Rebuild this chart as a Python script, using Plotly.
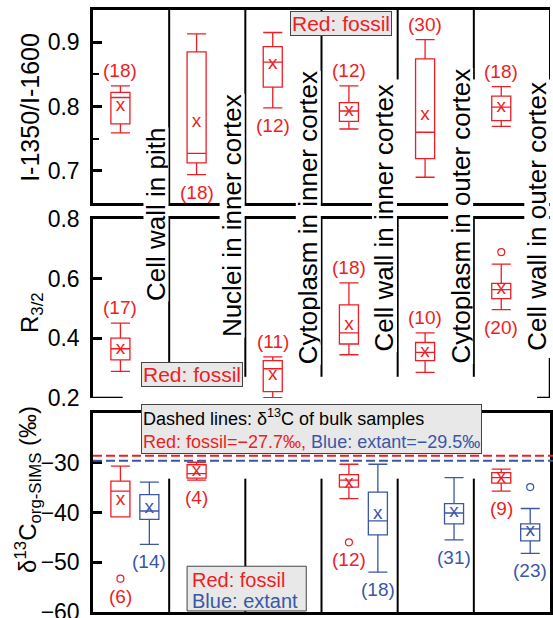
import plotly.graph_objects as go

RED = "#ee1d24"
BLUE = "#3a57a7"
FONT = "Arial, 'Liberation Sans', sans-serif"

categories = ["Cell wall in pith", "Nuclei in inner cortex", "Cytoplasm in inner cortex",
              "Cell wall in inner cortex", "Cytoplasm in outer cortex", "Cell wall in outer cortex"]

# ---- Panel 1: I-1350/I-1600 (fossil) ----
ratio_cat = [0, 1, 2, 3, 4, 5]
ratio_lo = [0.759, 0.694, 0.798, 0.765, 0.690, 0.769]
ratio_q1 = [0.773, 0.7125, 0.830, 0.777, 0.719, 0.778]
ratio_med = [0.814, 0.727, 0.869, 0.793, 0.760, 0.799]
ratio_q3 = [0.822, 0.885, 0.893, 0.806, 0.874, 0.816]
ratio_hi = [0.832, 0.913, 0.915, 0.832, 0.904, 0.831]
ratio_mean = [0.800, 0.775, 0.865, 0.792, 0.787, 0.799]
ratio_n = [18, 18, 12, 12, 30, 18]
ratio_out = [[], [], [], [], [], []]
ratio_side = ["top", "bottom", "bottom", "top", "top", "top"]

# ---- Panel 2: R3/2 (fossil) ----
r32_cat = [0, 2, 3, 4, 5]
r32_lo = [0.289, 0.201, 0.345, 0.286, 0.496]
r32_q1 = [0.328, 0.221, 0.381, 0.325, 0.533]
r32_med = [0.365, 0.298, 0.418, 0.353, 0.563]
r32_q3 = [0.401, 0.325, 0.512, 0.386, 0.584]
r32_hi = [0.451, 0.338, 0.586, 0.418, 0.649]
r32_mean = [0.365, 0.275, 0.443, 0.353, 0.565]
r32_n = [17, 11, 18, 10, 20]
r32_out = [[], [], [], [], [0.689]]
r32_side = ["top", "top", "top", "top", "bottom"]

# ---- Panel 3: d13C org-SIMS ----
fos_cat = [0, 1, 3, 5]
fos_lo = [-40.9, -33.5, -37.2, -35.7]
fos_q1 = [-40.9, -33.1, -34.9, -34.1]
fos_med = [-35.7, -32.2, -33.5, -33.0]
fos_q3 = [-33.7, -30.4, -32.4, -32.0]
fos_hi = [-30.7, -29.9, -30.3, -31.3]
fos_mean = [-37.5, -31.7, -34.2, -33.1]
fos_n = [6, 4, 12, 9]
fos_out = [[-53.3], [], [-46.0], []]
fos_side = ["bottom", "bottom", "bottom", "bottom"]

ext_cat = [0, 3, 4, 5]
ext_lo = [-46.4, -52.0, -45.5, -48.2]
ext_q1 = [-41.4, -44.5, -42.3, -45.7]
ext_med = [-39.7, -41.7, -40.1, -43.3]
ext_q3 = [-36.4, -35.9, -38.2, -42.3]
ext_hi = [-33.9, -30.3, -33.0, -39.2]
ext_mean = [-39.1, -40.3, -39.9, -43.7]
ext_n = [14, 18, 31, 23]
ext_out = [[], [], [], [-34.9]]
ext_side = ["bottom", "bottom", "bottom", "bottom"]

bulk_text = {"fossil": "−27.7", "extant": "−29.5"}
bulk_line = {"fossil": -28.6, "extant": -29.6}

FOSSIL_OFF = 0.36
EXTANT_OFF = 0.74
BOXW = 0.25

fig = go.Figure()
annotations = []
shapes = []


def add_series(cat, lo, q1, med, q3, hi, mean, n, outs, sides, color, off, xa, ya):
    xs = [c + off for c in cat]
    fig.add_trace(go.Box(x=xs, q1=q1, median=med, q3=q3, lowerfence=lo, upperfence=hi,
                         width=BOXW, whiskerwidth=1, boxpoints=False,
                         fillcolor="rgba(0,0,0,0)", line=dict(color=color, width=1.3),
                         xaxis=xa, yaxis=ya, hoverinfo="skip", showlegend=False))
    fig.add_trace(go.Scatter(x=xs, y=mean, mode="text", text=["x"] * len(xs),
                             textfont=dict(size=19, color=color, family=FONT),
                             xaxis=xa, yaxis=ya, hoverinfo="skip", showlegend=False))
    ox, oy = [], []
    for x, o in zip(xs, outs):
        for v in o:
            ox.append(x)
            oy.append(v)
    if ox:
        fig.add_trace(go.Scatter(x=ox, y=oy, mode="markers",
                                 marker=dict(symbol="circle-open", size=7, color=color,
                                             line=dict(width=1.2, color=color)),
                                 xaxis=xa, yaxis=ya, hoverinfo="skip", showlegend=False))
    for x, h, l, o, cnt, side in zip(xs, hi, lo, outs, n, sides):
        if side == "top":
            anchor = max([h] + o)
            annotations.append(dict(x=x, y=anchor, xref=xa, yref=ya, text=f"({cnt})",
                                    showarrow=False, xanchor="center", yanchor="bottom", yshift=3,
                                    font=dict(size=19, color=color, family=FONT)))
        else:
            anchor = min([l] + o)
            annotations.append(dict(x=x, y=anchor, xref=xa, yref=ya, text=f"({cnt})",
                                    showarrow=False, xanchor="center", yanchor="top", yshift=-5,
                                    font=dict(size=19, color=color, family=FONT)))


add_series(ratio_cat, ratio_lo, ratio_q1, ratio_med, ratio_q3, ratio_hi, ratio_mean, ratio_n,
           ratio_out, ratio_side, RED, FOSSIL_OFF, "x", "y")
add_series(r32_cat, r32_lo, r32_q1, r32_med, r32_q3, r32_hi, r32_mean, r32_n,
           r32_out, r32_side, RED, FOSSIL_OFF, "x2", "y2")
add_series(fos_cat, fos_lo, fos_q1, fos_med, fos_q3, fos_hi, fos_mean, fos_n,
           fos_out, fos_side, RED, FOSSIL_OFF, "x3", "y3")
add_series(ext_cat, ext_lo, ext_q1, ext_med, ext_q3, ext_hi, ext_mean, ext_n,
           ext_out, ext_side, BLUE, EXTANT_OFF, "x3", "y3")

# bulk dashed lines
for key, col in (("fossil", RED), ("extant", BLUE)):
    shapes.append(dict(type="line", xref="x3 domain", yref="y3", x0=0, x1=1.01,
                       y0=bulk_line[key], y1=bulk_line[key],
                       line=dict(color=col, width=2, dash="9px,4px")))

LINE = dict(color="black", width=2)
# dividers: top panel
for i in (1, 2, 3):
    shapes.append(dict(type="line", xref="x", yref="y", x0=i, x1=i, y0=0.65, y1=0.95, line=LINE))
for i in (4, 5, 6):
    shapes.append(dict(type="line", xref="x", yref="y", x0=i, x1=i, y0=0.842, y1=0.95, line=LINE))
# middle panel
for i in (1, 2, 3, 4, 5):
    shapes.append(dict(type="line", xref="x2", yref="y2", x0=i, x1=i, y0=0.271, y1=0.8, line=LINE))
shapes.append(dict(type="line", xref="x2", yref="y2", x0=6, x1=6, y0=0.2, y1=0.334,
                   line=dict(color="black", width=2.5)))
shapes.append(dict(type="line", xref="x2", yref="y2", x0=0, x1=0.39, y0=0.2, y1=0.2,
                   line=dict(color="black", width=2.5)))
shapes.append(dict(type="line", xref="x2", yref="y2", x0=5.83, x1=6, y0=0.2, y1=0.2,
                   line=dict(color="black", width=2.5)))
# bottom panel
for i in (1, 2, 3, 4, 5):
    shapes.append(dict(type="line", xref="x3", yref="y3", x0=i, x1=i, y0=-60, y1=-33.2, line=LINE))

# bottom legend box
shapes.append(dict(type="rect", xref="x3", yref="paper", x0=1.235, x1=2.8, y0=0.0017, y1=0.076,
                   fillcolor="#e8e8e8", line=dict(color="#444", width=1)))
annotations.append(dict(x=1.27, y=0.0535, xref="x3", yref="paper", xanchor="left", yanchor="middle",
                        text="Red: fossil", showarrow=False, font=dict(size=20, color=RED, family=FONT)))
annotations.append(dict(x=1.27, y=0.0175, xref="x3", yref="paper", xanchor="left", yanchor="middle",
                        text="Blue: extant", showarrow=False, font=dict(size=20, color=BLUE, family=FONT)))

# category labels
label_bottom = [302, 338, 365, 352, 365, 352]
for i, (lab, yb) in enumerate(zip(categories, label_bottom)):
    annotations.append(dict(x=i + 0.82, y=(612 - yb) / 602, xref="x", yref="paper",
                            text=lab, textangle=-90, showarrow=False, xanchor="center", yanchor="bottom",
                            bgcolor="white", borderpad=0, height=24,
                            font=dict(size=26, color="black", family=FONT)))

# "Red: fossil" boxes
annotations.append(dict(x=3.25, y=0.977, xref="x", yref="paper", text="Red: fossil", showarrow=False,
                        xanchor="center", yanchor="middle", bgcolor="#e8e8e8", bordercolor="#444",
                        borderwidth=1, borderpad=1, height=21, font=dict(size=21, color=RED, family=FONT)))
annotations.append(dict(x=1.30, y=0.3945, xref="x", yref="paper", text="Red: fossil", showarrow=False,
                        xanchor="center", yanchor="middle", bgcolor="#e8e8e8", bordercolor="#444",
                        borderwidth=1, borderpad=1, height=21, font=dict(size=21, color=RED, family=FONT)))

# dashed-lines note
annotations.append(dict(x=0.63, y=(612 - 404) / 602, xref="x3", yref="paper", xanchor="left", yanchor="top",
                        align="left", showarrow=False, bgcolor="#e8e8e8", bordercolor="#444",
                        borderwidth=1, borderpad=1,
                        text=("Dashed lines: δ<sup>13</sup>C of bulk samples<br>"
                              f"<span style='color:{RED}'>Red: fossil={bulk_text['fossil']}‰,</span> "
                              f"<span style='color:{BLUE}'>Blue: extant={bulk_text['extant']}‰</span>"),
                        font=dict(size=18, color="black", family=FONT)))

# axis titles
annotations.append(dict(x=-0.138, y=0.839, xref="paper", yref="paper", text="I-1350/I-1600",
                        xanchor="center", yanchor="middle",
                        textangle=-90, showarrow=False, font=dict(size=25, family=FONT, color="black")))
annotations.append(dict(x=-0.133, y=0.497, xref="paper", yref="paper", text="R<sub>3/2</sub>",
                        xanchor="center", yanchor="middle",
                        textangle=-90, showarrow=False, font=dict(size=24, family=FONT, color="black")))
annotations.append(dict(x=-0.142, y=0.203, xref="paper", yref="paper",
                        text="δ<sup>13</sup>C<sub>org-SIMS</sub> (‰)",
                        xanchor="center", yanchor="middle",
                        textangle=-90, showarrow=False, font=dict(size=24, family=FONT, color="black")))

xcommon = dict(range=[0, 6], showticklabels=False, ticks="", showgrid=False, zeroline=False,
               showline=True, linecolor="black", linewidth=2.5, domain=[0, 1], fixedrange=True,
               automargin=False)
ycommon = dict(showgrid=False, zeroline=False, showline=True, linecolor="black", linewidth=2.5,
               ticks="inside", ticklen=9, tickwidth=2.5, tickcolor="black", automargin=False,
               ticklabeloverflow="allow",
               tickfont=dict(size=23, family=FONT, color="black"), ticklabelstandoff=6)

fig.update_layout(
    width=553, height=618,
    margin=dict(l=93, r=3, t=10, b=6, autoexpand=False),
    paper_bgcolor="white", plot_bgcolor="white",
    boxmode="overlay", showlegend=False,
    xaxis=dict(**xcommon, anchor="y", mirror=True),
    xaxis2=dict(**xcommon, anchor="y2", side="top", mirror=False),
    xaxis3=dict(**xcommon, anchor="y3", mirror=True),
    yaxis=dict(**ycommon, domain=[0.6794, 1.0], range=[0.65, 0.95], tickvals=[0.7, 0.8, 0.9],
               ticktext=["0.7", "0.8", "0.9"], anchor="x",
               minor=dict(tickvals=[0.75, 0.85], ticks="inside", ticklen=6, tickwidth=2, tickcolor="black")),
    yaxis2=dict(**ycommon, domain=[0.3555, 0.6528], range=[0.2, 0.8], tickvals=[0.2, 0.4, 0.6, 0.8],
                ticktext=["0.2", "0.4", "0.6", "0.8"], anchor="x2"),
    yaxis3=dict(**ycommon, domain=[0.0, 0.3306], range=[-60, -20], tickvals=[-60, -50, -40, -30],
                anchor="x3", mirror=True),
    annotations=annotations,
    shapes=shapes,
)

fig.write_html("out.html")
